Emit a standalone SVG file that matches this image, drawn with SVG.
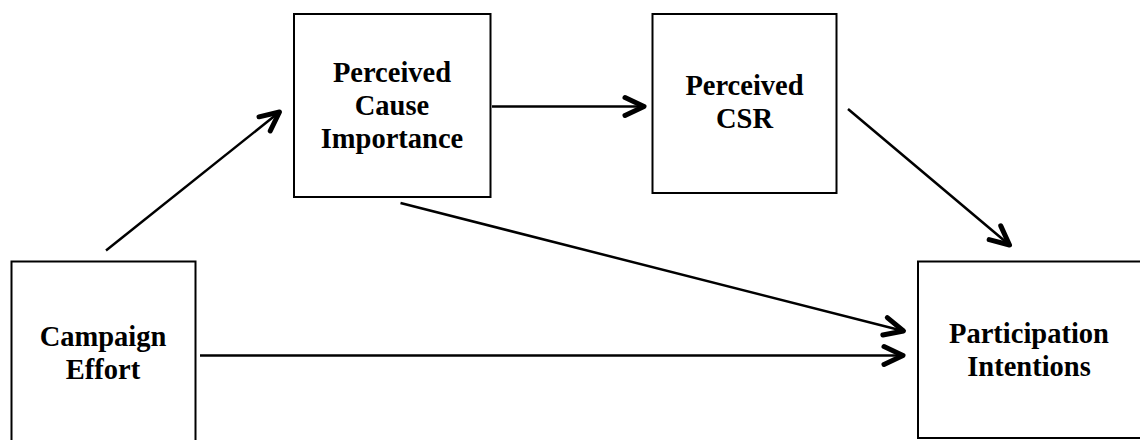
<svg xmlns="http://www.w3.org/2000/svg" width="1140" height="440" viewBox="0 0 1140 440">
<style>
.box{fill:#fff;stroke:#000;stroke-width:2}
.lbl{font-family:"Liberation Serif","Times New Roman",serif;font-weight:bold;font-size:28.5px;fill:#000;text-anchor:middle}
.conn{stroke:#000;stroke-width:2.5;fill:none;marker-end:url(#arr)}
</style>
<defs>
<marker id="arr" markerUnits="userSpaceOnUse" viewBox="-30 -15 35 30" refX="0" refY="0" markerWidth="35" markerHeight="30" orient="auto" overflow="visible">
<path d="M -19 -9 L 0 0 L -19 9" fill="none" stroke="#000" stroke-width="5" stroke-linecap="round" stroke-linejoin="round"/>
</marker>
</defs>
<rect width="1140" height="440" fill="#fff"/>
<g id="campaign-effort">
<rect class="box" x="11.5" y="261.5" width="184" height="190"/>
<text class="lbl" x="103" y="346">Campaign</text>
<text class="lbl" x="103" y="379">Effort</text>
</g>
<g id="perceived-cause-importance">
<rect class="box" x="294" y="14" width="196.5" height="183"/>
<text class="lbl" x="392" y="82">Perceived</text>
<text class="lbl" x="392" y="115">Cause</text>
<text class="lbl" x="392" y="148">Importance</text>
</g>
<g id="perceived-csr">
<rect class="box" x="652.5" y="14" width="184" height="179"/>
<text class="lbl" x="744.5" y="95">Perceived</text>
<text class="lbl" x="744.5" y="128">CSR</text>
</g>
<g id="participation-intentions">
<rect class="box" x="918" y="261.5" width="230" height="176.5"/>
<text class="lbl" x="1029" y="343">Participation</text>
<text class="lbl" x="1029" y="376">Intentions</text>
</g>
<g id="connectors">
<line class="conn" x1="106" y1="250.5" x2="279.5" y2="112"/>
<line class="conn" x1="492" y1="106.5" x2="644" y2="106.5"/>
<line class="conn" x1="848" y1="109" x2="1009.5" y2="245"/>
<line class="conn" x1="400.5" y1="203" x2="903.5" y2="331"/>
<line class="conn" x1="200" y1="355.5" x2="903" y2="355.5"/>
</g>
</svg>
